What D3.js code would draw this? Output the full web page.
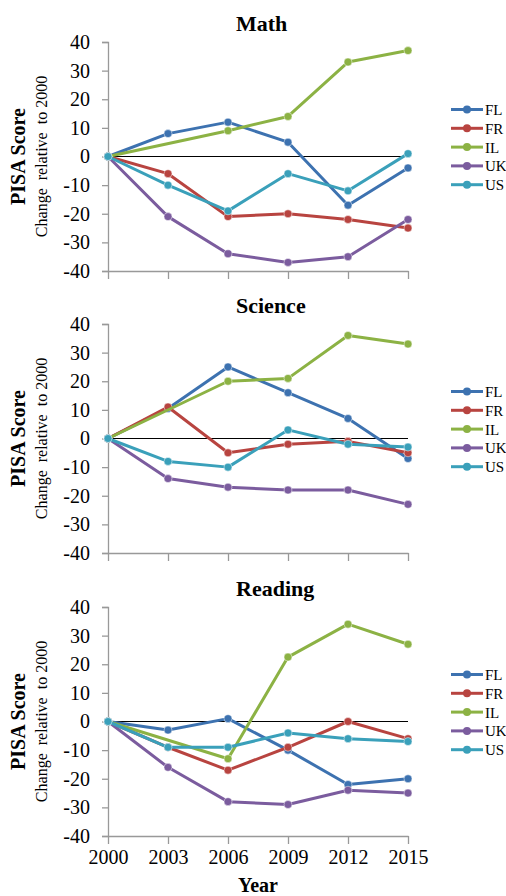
<!DOCTYPE html>
<html>
<head>
<meta charset="utf-8">
<script src="https://cdn.jsdelivr.net/npm/d3@7"></script>
</head>
<body style="margin:0; background:#fff">
<div id="chart"></div>
<script>
// data
const years = [2000, 2003, 2006, 2009, 2012, 2015];
const countries = ['FL', 'FR', 'IL', 'UK', 'US'];
const colors = ['#3d72b0', '#b84440', '#8cb244', '#7b5c9e', '#3aa0ba'];
const yTicks = [40, 30, 20, 10, 0, -10, -20, -30, -40];
const subjects = ['Math', 'Science', 'Reading'];

// IL has no 2003 result (null)
const math = {
    FL: [0, 8, 12, 5, -17, -4],
    FR: [0, -6, -21, -20, -22, -25],
    IL: [0, null, 9, 14, 33, 37],
    UK: [0, -21, -34, -37, -35, -22],
    US: [0, -10, -19, -6, -12, 1]
};
const science = {
    FL: [0, 10.5, 25, 16, 7, -7],
    FR: [0, 11, -5, -2, -1, -5],
    IL: [0, null, 20, 21, 36, 33],
    UK: [0, -14, -17, -18, -18, -23],
    US: [0, -8, -10, 3, -2, -3]
};
const reading = {
    FL: [0, -3, 1, -10, -22, -20],
    FR: [0, -9, -17, -9, 0, -6],
    IL: [0, null, -13, 22.5, 34, 27],
    UK: [0, -16, -28, -29, -24, -25],
    US: [0, -9, -9, -4, -6, -7]
};
const panels = [math, science, reading];

// layout
const W = 506, H = 896;
const plotLeft = 108, plotRight = 408;
const plotTops = [42, 324, 607];
const plotH = 229;
const serif = "'Liberation Serif', 'Times New Roman', serif";

const svg = d3.select('#chart').append('svg')
    .attr('width', W)
    .attr('height', H);

const xScale = d3.scalePoint()
    .domain(years)
    .range([plotLeft, plotRight]);

panels.forEach((panel, i) => {
    const top = plotTops[i];
    const g = svg.append('g');

    const yScale = d3.scaleLinear()
        .domain([-40, 40])
        .range([top + plotH, top]);

    // title
    g.append('text')
        .attr('x', 236)
        .attr('y', top - 11)
        .style('font-size', '22px')
        .style('font-weight', 'bold')
        .text(subjects[i]);

    // y axis (plain hyphen for negatives)
    const yAxis = d3.axisLeft(yScale)
        .tickValues(yTicks)
        .tickSize(6)
        .tickPadding(12)
        .tickFormat(d => String(d));
    const yg = g.append('g')
        .attr('transform', 'translate(' + plotLeft + ',0)')
        .call(yAxis);
    yg.select('.domain').attr('stroke', '#999').attr('stroke-width', 1.3);
    yg.selectAll('.tick line').attr('stroke', '#999').attr('stroke-width', 1.3);
    yg.selectAll('.tick text')
        .style('font-size', '20px')
        .attr('fill', '#000');

    // x axis at bottom
    const xAxis = d3.axisBottom(xScale)
        .tickSize(8)
        .tickSizeOuter(0)
        .tickPadding(6)
        .tickFormat(d => i === 2 ? String(d) : '');
    const xg = g.append('g')
        .attr('transform', 'translate(0,' + (top + plotH) + ')')
        .call(xAxis);
    xg.select('.domain').attr('stroke', '#999').attr('stroke-width', 1.3);
    xg.selectAll('.tick line').attr('stroke', '#999').attr('stroke-width', 1.3);
    xg.selectAll('.tick text')
        .style('font-size', '20px')
        .attr('fill', '#000');

    // zero line
    g.append('line')
        .attr('x1', plotLeft).attr('x2', plotRight)
        .attr('y1', yScale(0)).attr('y2', yScale(0))
        .attr('stroke', '#000')
        .attr('stroke-width', 1.2);

    // y labels
    const midY = top + plotH / 2;
    g.append('text')
        .attr('transform', 'translate(25,' + midY + ') rotate(-90)')
        .attr('text-anchor', 'middle')
        .style('font-size', '20px')
        .style('font-weight', 'bold')
        .text('PISA Score');
    g.append('text')
        .attr('transform', 'translate(47,' + midY + ') rotate(-90)')
        .attr('text-anchor', 'middle')
        .style('font-size', '16px')
        .style('white-space', 'pre')
        .text('Change  relative  to 2000');

    const line = d3.line()
        .x(d => xScale(d.year))
        .y(d => yScale(d.value));

    countries.forEach((c, k) => {
        const pts = years.map((y, j) => ({year: y, value: panel[c][j]}))
            .filter(d => d.value !== null);

        g.append('path')
            .datum(pts)
            .attr('fill', 'none')
            .attr('stroke', colors[k])
            .attr('stroke-width', 3)
            .attr('stroke-linejoin', 'round')
            .attr('d', line);

        g.selectAll('.dot-' + c)
            .data(pts)
            .join('circle')
            .attr('cx', d => xScale(d.year))
            .attr('cy', d => yScale(d.value))
            .attr('r', 4)
            .attr('fill', colors[k])
            .attr('stroke', 'rgba(255,255,255,0.6)')
            .attr('stroke-width', 0.8);
    });

    // legend
    const legTop = yScale(0) - 47;
    countries.forEach((c, k) => {
        const ly = legTop + k * 18.8;
        g.append('line')
            .attr('x1', 451).attr('x2', 483)
            .attr('y1', ly).attr('y2', ly)
            .attr('stroke', colors[k])
            .attr('stroke-width', 3);
        g.append('circle')
            .attr('cx', 467).attr('cy', ly)
            .attr('r', 4)
            .attr('fill', colors[k]);
        g.append('text')
            .attr('x', 485)
            .attr('y', ly + 5.5)
            .style('font-size', '15px')
            .text(c);
    });
});

// x axis title
svg.append('text')
    .attr('x', 258)
    .attr('y', 892)
    .attr('text-anchor', 'middle')
    .style('font-size', '20px')
    .style('font-weight', 'bold')
    .text('Year');

svg.selectAll('text').style('font-family', serif);
</script>
</body>
</html>
